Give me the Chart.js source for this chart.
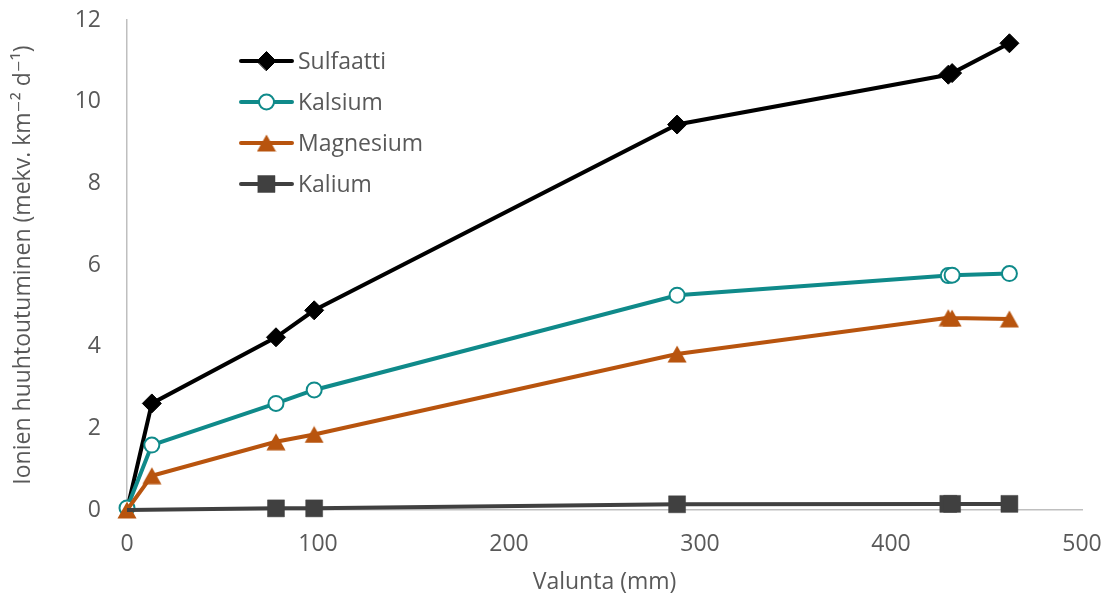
<!DOCTYPE html>
<html lang="fi">
<head>
<meta charset="utf-8">
<title>Ionien huuhtoutuminen</title>
<script src="https://cdn.jsdelivr.net/npm/chart.js@4.4.1/dist/chart.umd.min.js"></script>
<style>
  html, body { margin: 0; padding: 0; background: #ffffff; }
  #wrap { width: 1110px; height: 599px; position: relative; }
</style>
</head>
<body>
<div id="wrap"><canvas id="chart"></canvas></div>
<script>
// Valunta (mm) ja ionien huuhtoutuminen (mekv. km⁻² d⁻¹)
const runoffMm  = [0, 13, 78, 98, 288, 430, 432, 462];
const sulfaatti = [0, 2.61, 4.23, 4.89, 9.44, 10.66, 10.70, 11.43];
const kalsium   = [0.05, 1.59, 2.61, 2.94, 5.26, 5.74, 5.75, 5.79];
const magnesium = [0, 0.84, 1.67, 1.85, 3.82, 4.71, 4.70, 4.68];
const kalium    = [0, null, 0.04, 0.04, 0.14, 0.15, 0.15, 0.15];

const seriesNames = ['Sulfaatti', 'Kalsium', 'Magnesium', 'Kalium'];
const xTicks = [0, 100, 200, 300, 400, 500];
const yTicks = [0, 2, 4, 6, 8, 10, 12];

const TEXT = '#595959';
const AXIS = '#bfbfbf';
const FONT = "'Open Sans', 'DejaVu Sans', sans-serif";

// triangle marker centred in its own box
function triangleMarker(color) {
  const c = document.createElement('canvas');
  c.width = 20; c.height = 18;
  const g = c.getContext('2d');
  g.fillStyle = color;
  g.beginPath();
  g.moveTo(10, 0.5);
  g.lineTo(19.5, 17.5);
  g.lineTo(0.5, 17.5);
  g.closePath();
  g.fill();
  return c;
}

const toPoints = (ys) => runoffMm.map((x, i) => ({ x: x, y: ys[i] }));

const styles = [
  { color: '#000000', fill: '#000000', pointStyle: 'rectRot', radius: 9.5, border: 1, hideFirst: true },
  { color: '#0f8a8a', fill: '#ffffff', pointStyle: 'circle', radius: 7.5, border: 2, hideFirst: false },
  { color: '#b8540e', fill: '#b8540e', pointStyle: triangleMarker('#b8540e'), radius: 9, border: 0, hideFirst: false },
  { color: '#404040', fill: '#404040', pointStyle: 'rect', radius: 12, border: 0.5, hideFirst: true }
];
const values = [sulfaatti, kalsium, magnesium, kalium];
const LINE_W = 4;

const datasets = seriesNames.map((name, i) => {
  const s = styles[i];
  return {
    label: name,
    data: toPoints(values[i]),
    borderColor: s.color,
    backgroundColor: s.fill,
    borderWidth: LINE_W,
    pointStyle: s.pointStyle,
    pointRadius: (ctx) => (s.hideFirst && ctx.dataIndex === 0) ? 0 : s.radius,
    pointHoverRadius: (ctx) => (s.hideFirst && ctx.dataIndex === 0) ? 0 : s.radius,
    pointBorderColor: s.color,
    pointBackgroundColor: s.fill,
    pointBorderWidth: s.border,
    tension: 0,
    spanGaps: true,
    clip: false,
    order: seriesNames.length - i
  };
});

// legend drawn inside the plot area, upper left
const insideLegend = {
  id: 'insideLegend',
  afterDatasetsDraw(chart) {
    const ctx = chart.ctx;
    const x0 = 241, x1 = 292, xm = 266.5, xt = 298, yTop = 61, step = 41;
    chart.data.datasets.forEach((ds, i) => {
      const s = styles[i];
      const y = yTop + i * step;
      ctx.save();
      ctx.strokeStyle = s.color;
      ctx.lineWidth = LINE_W;
      ctx.lineCap = 'round';
      ctx.beginPath();
      ctx.moveTo(x0, y);
      ctx.lineTo(x1, y);
      ctx.stroke();
      ctx.fillStyle = s.fill;
      ctx.strokeStyle = s.color;
      ctx.lineWidth = s.border;
      Chart.helpers.drawPoint(ctx, { pointStyle: s.pointStyle, radius: s.radius, borderWidth: s.border, rotation: 0 }, xm, y);
      ctx.fillStyle = TEXT;
      ctx.font = '23px ' + FONT;
      ctx.textAlign = 'left';
      ctx.textBaseline = 'middle';
      ctx.fillText(ds.label, xt, y + 1);
      ctx.restore();
    });
  }
};

Chart.defaults.font.family = FONT;
Chart.defaults.font.size = 23;
Chart.defaults.color = TEXT;

new Chart(document.getElementById('chart'), {
  type: 'line',
  data: { datasets: datasets },
  options: {
    responsive: true,
    maintainAspectRatio: false,
    animation: false,
    layout: { autoPadding: false, padding: { left: 0, right: 28, top: 20, bottom: 0 } },
    plugins: {
      legend: { display: false },
      tooltip: { enabled: false }
    },
    scales: {
      x: {
        type: 'linear',
        min: xTicks[0],
        max: xTicks[xTicks.length - 1],
        afterBuildTicks: (scale) => { scale.ticks = xTicks.map(v => ({ value: v })); },
        afterFit: (scale) => { scale.height = 89; scale.paddingLeft = 0; scale.paddingRight = 0; },
        grid: { display: false, drawTicks: false },
        border: { display: true, color: AXIS, width: 1.5 },
        ticks: { padding: 21, color: TEXT, font: { size: 23 } },
        title: {
          display: true,
          text: 'Valunta (mm)',
          color: TEXT,
          font: { size: 23 },
          padding: { top: 0, bottom: 3 }
        }
      },
      y: {
        type: 'linear',
        min: yTicks[0],
        max: yTicks[yTicks.length - 1],
        afterBuildTicks: (scale) => { scale.ticks = yTicks.map(v => ({ value: v })); },
        afterFit: (scale) => { scale.width = 127; scale.paddingTop = 0; scale.paddingBottom = 0; },
        grid: { display: false, drawTicks: false },
        border: { display: true, color: AXIS, width: 1.5 },
        ticks: { padding: 26, color: TEXT, font: { size: 23 } },
        title: {
          display: true,
          text: 'Ionien huuhtoutuminen (mekv. km⁻² d⁻¹)',
          color: TEXT,
          font: { size: 23 },
          padding: { top: 10, bottom: 0 }
        }
      }
    }
  },
  plugins: [insideLegend]
});
</script>
</body>
</html>
